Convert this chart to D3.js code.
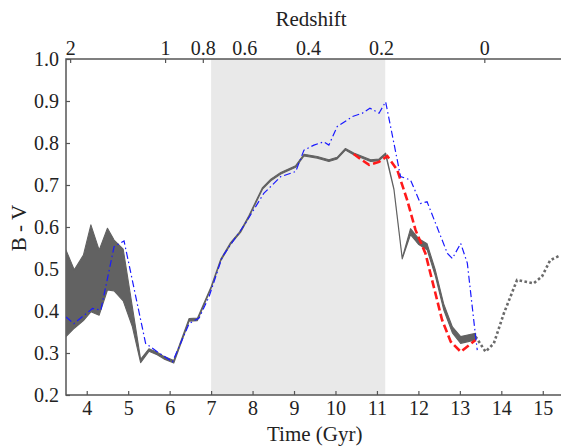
<!DOCTYPE html>
<html>
<head>
<meta charset="utf-8">
<script src="https://cdn.jsdelivr.net/npm/d3@7"></script>
<style>
  body { margin: 0; background: #fff; }
  text { font-family: "Liberation Serif", "DejaVu Serif", serif; fill: #222; }
</style>
</head>
<body>
<script>
// grey band (model range)
var bandTime = [3.5, 3.7, 3.92, 4.1, 4.3, 4.5, 4.66, 4.88, 5.1, 5.3, 5.5, 5.7, 5.86, 6.1, 6.47, 6.67,
	7.0, 7.23, 7.47, 7.71, 7.91, 8.24, 8.44, 8.68, 9.04, 9.24, 9.56, 9.84, 10.04, 10.24, 10.44,
	10.85, 11.05, 11.21, 11.41, 11.61, 11.81, 12.01, 12.21, 12.41, 12.61, 12.82, 13.02, 13.38]
var bandLow = [0.339, 0.359, 0.377, 0.398, 0.390, 0.450, 0.448, 0.424, 0.363, 0.277, 0.304, 0.296, 0.286, 0.276, 0.376, 0.377,
	0.454, 0.519, 0.559, 0.587, 0.623, 0.690, 0.710, 0.726, 0.742, 0.769, 0.764, 0.756, 0.762, 0.783, 0.772,
	0.756, 0.758, 0.772, 0.689, 0.524, 0.582, 0.558, 0.546, 0.483, 0.403, 0.348, 0.323, 0.331]
var bandHigh = [0.545, 0.498, 0.533, 0.605, 0.545, 0.597, 0.569, 0.547, 0.410, 0.285, 0.310, 0.302, 0.292, 0.282, 0.382, 0.383,
	0.458, 0.523, 0.563, 0.591, 0.627, 0.694, 0.714, 0.730, 0.746, 0.773, 0.768, 0.760, 0.766, 0.787, 0.776,
	0.760, 0.762, 0.776, 0.691, 0.526, 0.596, 0.572, 0.560, 0.497, 0.417, 0.362, 0.339, 0.347]

// blue dash-dot
var blueTime = [3.5, 3.69, 4.14, 4.34, 4.66, 4.9, 5.42, 5.7, 6.07, 6.47, 6.71, 6.95, 7.27, 7.55, 7.83, 8.27,
	8.68, 9.04, 9.24, 9.48, 9.72, 9.84, 10.04, 10.41, 10.65, 10.83, 11.05, 11.21, 11.57, 11.81, 12.05,
	12.21, 12.70, 12.82, 13.02, 13.18, 13.38, 13.42]
var blueValue = [0.386, 0.370, 0.406, 0.402, 0.553, 0.567, 0.323, 0.303, 0.279, 0.370, 0.383, 0.434, 0.529, 0.569, 0.609, 0.680,
	0.720, 0.732, 0.783, 0.795, 0.803, 0.795, 0.839, 0.863, 0.871, 0.883, 0.871, 0.898, 0.720, 0.712, 0.656,
	0.660, 0.537, 0.525, 0.561, 0.514, 0.339, 0.307]

// red dashed
var redTime = [10.44, 10.6, 10.81, 11.05, 11.25, 11.49, 11.73, 11.93, 12.17, 12.37, 12.57, 12.78, 13.02, 13.38]
var redValue = [0.774, 0.762, 0.748, 0.755, 0.769, 0.736, 0.664, 0.593, 0.537, 0.458, 0.379, 0.327, 0.303, 0.331]

// grey dotted (future)
var dotTime = [13.38, 13.62, 13.82, 14.06, 14.38, 14.78, 14.98, 15.18, 15.43]
var dotValue = [0.339, 0.303, 0.323, 0.394, 0.474, 0.466, 0.482, 0.521, 0.533]

var timeTicks = [4, 5, 6, 7, 8, 9, 10, 11, 12, 13, 14, 15]
var colorTicks = [0.2, 0.3, 0.4, 0.5, 0.6, 0.7, 0.8, 0.9, 1.0]
var redshiftLabels = ['2', '1', '0.8', '0.6', '0.4', '0.2', '0']
var redshiftTimes = [3.6, 5.89, 6.8, 7.8, 9.34, 11.1, 13.59]
var shadeRange = [7.0, 11.2]

var width = 561, height = 447
var plotL = 66, plotR = 563.5, plotT = 59, plotB = 395

var x = d3.scaleLinear().domain([3.5, 15.5]).range([plotL, plotR])
var y = d3.scaleLinear().domain([0.2, 1.0]).range([plotB, plotT])

var svg = d3.select('body').append('svg')
	.attr('width', width)
	.attr('height', height)

svg.append('clipPath').attr('id', 'plot')
	.append('rect')
		.attr('x', plotL).attr('y', plotT)
		.attr('width', plotR - plotL).attr('height', plotB - plotT)

var axisColor = '#555'

// top (redshift) axis, drawn under the shading
var topAxis = svg.append('g')
	.attr('transform', 'translate(0,' + plotT + ')')
	.call(d3.axisTop(x)
		.tickValues(redshiftTimes)
		.tickFormat((d, i) => redshiftLabels[i])
		.tickSizeInner(-4).tickSizeOuter(0).tickPadding(4))
topAxis.select('.domain').remove()

svg.append('rect')
	.attr('x', x(shadeRange[0]))
	.attr('y', plotT)
	.attr('width', x(shadeRange[1]) - x(shadeRange[0]))
	.attr('height', plotB - plotT)
	.attr('fill', '#e9e9e9')

var bottomAxis = svg.append('g')
	.attr('transform', 'translate(0,' + plotB + ')')
	.call(d3.axisBottom(x)
		.tickValues(timeTicks)
		.tickFormat(d3.format('d'))
		.tickSizeInner(-4).tickSizeOuter(0).tickPadding(6))
bottomAxis.select('.domain').remove()

var leftAxis = svg.append('g')
	.attr('transform', 'translate(' + plotL + ',0)')
	.call(d3.axisLeft(y)
		.tickValues(colorTicks)
		.tickFormat(d3.format('.1f'))
		.tickSizeInner(-4).tickSizeOuter(0).tickPadding(7))
leftAxis.select('.domain').remove()

svg.selectAll('.tick line').attr('stroke', axisColor).attr('stroke-width', 1.2)
svg.selectAll('.tick text').style('font-size', '20px').attr('fill', '#222')
	.style('font-family', '"Liberation Serif", serif')

// frame: left, top, bottom
svg.append('path')
	.attr('d', 'M' + width + ',' + plotT + 'H' + plotL + 'V' + plotB + 'H' + width)
	.attr('fill', 'none')
	.attr('stroke', axisColor)
	.attr('stroke-width', 1.5)

var plot = svg.append('g').attr('clip-path', 'url(#plot)')

var band = bandTime.map((t, i) => ({t: t, lo: bandLow[i], hi: bandHigh[i]}))

plot.append('path')
	.datum(band)
	.attr('d', d3.area().x(d => x(d.t)).y0(d => y(d.lo)).y1(d => y(d.hi)))
	.attr('fill', '#626262')
	.attr('stroke', '#626262')
	.attr('stroke-width', 1.1)
	.attr('stroke-linejoin', 'round')

var line = d3.line().x(d => x(d[0])).y(d => y(d[1]))

plot.append('path')
	.datum(d3.zip(dotTime, dotValue))
	.attr('d', line)
	.attr('fill', 'none')
	.attr('stroke', '#6a6a6a')
	.attr('stroke-width', 2.6)
	.attr('stroke-dasharray', '2.6,2.4')

plot.append('path')
	.datum(d3.zip(redTime, redValue))
	.attr('d', line)
	.attr('fill', 'none')
	.attr('stroke', '#ff1a1a')
	.attr('stroke-width', 2.6)
	.attr('stroke-dasharray', '8,3.5')

plot.append('path')
	.datum(d3.zip(blueTime, blueValue))
	.attr('d', line)
	.attr('fill', 'none')
	.attr('stroke', '#1a1aff')
	.attr('stroke-width', 1.2)
	.attr('stroke-dasharray', '7,3,1.5,3')

// axis titles
svg.append('text')
	.attr('x', (plotL + plotR) / 2).attr('y', 441)
	.attr('text-anchor', 'middle')
	.style('font-size', '21px')
	.text('Time (Gyr)')

svg.append('text')
	.attr('x', 311).attr('y', 26)
	.attr('text-anchor', 'middle')
	.style('font-size', '21px')
	.text('Redshift')

svg.append('text')
	.attr('transform', 'translate(26,228) rotate(-90)')
	.attr('text-anchor', 'middle')
	.style('font-size', '21px')
	.text('B - V')
</script>
</body>
</html>
